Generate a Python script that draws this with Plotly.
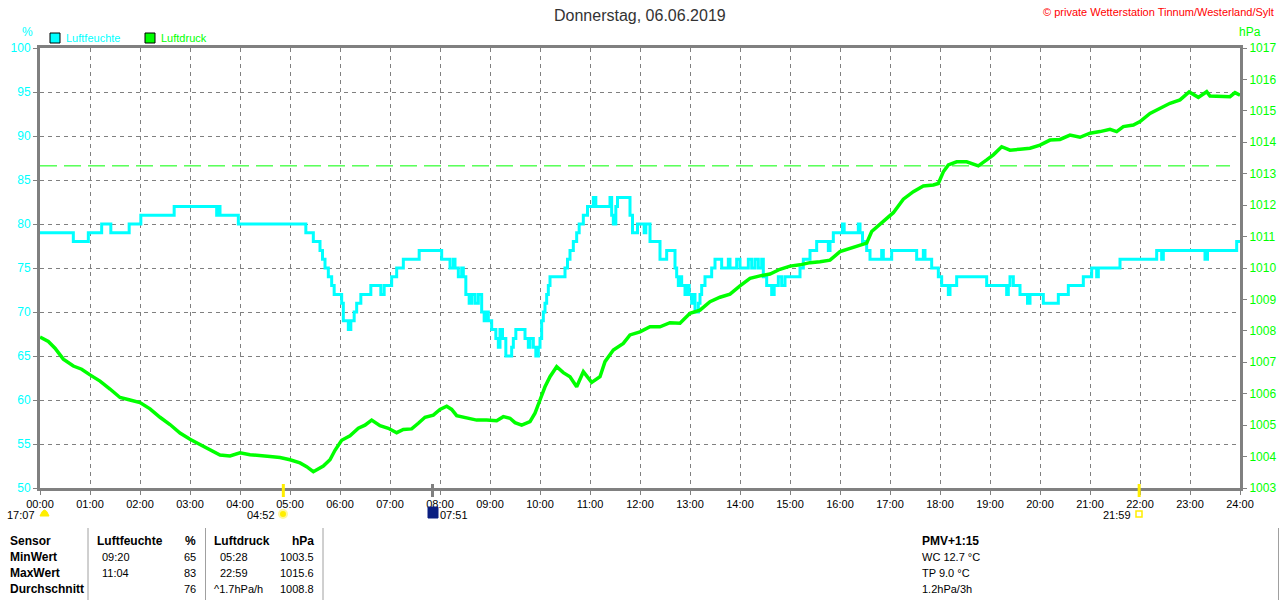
import plotly.graph_objects as go

# Humidity (%) - step series, time "HH:MM" of each change
hum_times = ["00:00", "00:40", "00:58", "01:14", "01:25", "01:47", "02:01", "02:41", "03:32", "03:34",
             "03:36", "03:58", "05:19", "05:28", "05:36", "05:39", "05:42", "05:46", "05:50", "05:53",
             "06:02", "06:04", "06:10", "06:13", "06:17", "06:20", "06:25", "06:37", "06:49", "06:53",
             "07:02", "07:08", "07:16", "07:35", "08:02", "08:12", "08:16", "08:18", "08:22", "08:26",
             "08:28", "08:31", "08:35", "08:38", "08:42", "08:46", "08:50", "08:53", "08:56", "08:58",
             "09:02", "09:07", "09:10", "09:12", "09:15", "09:19", "09:26", "09:28", "09:31", "09:42",
             "09:46", "09:48", "09:52", "09:55", "09:58", "10:00", "10:02", "10:04", "10:06", "10:08",
             "10:10", "10:12", "10:30", "10:33", "10:36", "10:40", "10:44", "10:47", "10:52", "10:57",
             "11:04", "11:07", "11:24", "11:26", "11:28", "11:31", "11:33", "11:48", "11:51", "11:57",
             "12:05", "12:07", "12:12", "12:24", "12:32", "12:42", "12:44", "12:46", "12:48", "12:50",
             "12:54", "12:57", "12:59", "13:02", "13:04", "13:06", "13:10", "13:12", "13:14", "13:18",
             "13:26", "13:30", "13:38", "13:46", "13:48", "13:56", "14:00", "14:10", "14:14", "14:18",
             "14:22", "14:26", "14:28", "14:32", "14:38", "14:41", "14:46", "14:50", "14:54", "15:12",
             "15:16", "15:24", "15:32", "15:46", "15:48", "15:52", "16:03", "16:05", "16:22", "16:24",
             "16:27", "16:32", "16:36", "16:50", "16:52", "17:02", "17:32", "17:40", "17:42", "17:50",
             "17:58", "18:02", "18:10", "18:12", "18:20", "18:56", "19:20", "19:22", "19:24", "19:28",
             "19:36", "19:45", "19:48", "20:04", "20:22", "20:34", "20:52", "21:02", "21:08", "21:10",
             "21:36", "22:20", "22:26", "22:28", "23:18", "23:21", "23:56", "24:00"]
hum_values = [79, 78, 79, 80, 79, 80, 81, 82, 81, 82,
              81, 80, 79, 78, 77, 76, 75, 74, 73, 72,
              71, 69, 68, 69, 70, 71, 72, 73, 72, 73,
              74, 75, 76, 77, 76, 75, 76, 75, 74, 75,
              74, 72, 71, 72, 71, 72, 70, 69, 70, 69,
              68, 67, 66, 68, 67, 65, 66, 67, 68, 67,
              66, 67, 66, 65, 66, 67, 69, 70, 71, 72,
              73, 74, 75, 76, 77, 78, 79, 80, 81, 82,
              83, 82, 83, 81, 80, 82, 83, 81, 79, 80,
              79, 80, 78, 76, 77, 75, 74, 73, 74, 73,
              72, 73, 72, 71, 72, 70, 71, 72, 73, 74,
              75, 76, 75, 76, 75, 76, 75, 76, 75, 76,
              75, 76, 74, 73, 72, 73, 74, 73, 74, 75,
              76, 77, 78, 77, 78, 79, 80, 79, 80, 79,
              78, 77, 76, 77, 76, 77, 76, 77, 76, 75,
              74, 73, 72, 73, 74, 73, 72, 73, 74, 73,
              72, 71, 72, 71, 72, 73, 74, 75, 74, 75,
              76, 77, 76, 77, 76, 77, 78, 78]

# Air pressure (hPa)
pres_times = ["00:00", "00:10", "00:18", "00:28", "00:40", "00:50", "01:00", "01:12", "01:24", "01:36",
              "01:48", "02:00", "02:12", "02:24", "02:36", "02:48", "03:00", "03:12", "03:24", "03:36",
              "03:48", "04:00", "04:12", "04:24", "04:36", "04:48", "05:00", "05:12", "05:20", "05:28",
              "05:40", "05:48", "05:54", "06:02", "06:12", "06:22", "06:30", "06:38", "06:48", "06:58",
              "07:08", "07:16", "07:26", "07:34", "07:42", "07:52", "08:00", "08:08", "08:14", "08:20",
              "08:32", "08:44", "08:56", "09:08", "09:16", "09:24", "09:30", "09:38", "09:48", "09:54",
              "10:00", "10:06", "10:12", "10:20", "10:28", "10:36", "10:44", "10:52", "11:02", "11:12",
              "11:18", "11:28", "11:40", "11:48", "12:00", "12:12", "12:24", "12:36", "12:48", "13:00",
              "13:12", "13:24", "13:36", "13:48", "14:00", "14:12", "14:24", "14:36", "14:48", "15:00",
              "15:12", "15:24", "15:36", "15:48", "16:00", "16:12", "16:24", "16:32", "16:38", "16:52",
              "17:04", "17:16", "17:28", "17:40", "17:52", "17:58", "18:04", "18:10", "18:20", "18:32",
              "18:46", "18:56", "19:04", "19:14", "19:24", "19:36", "19:48", "20:00", "20:12", "20:24",
              "20:36", "20:48", "21:00", "21:12", "21:24", "21:32", "21:40", "21:52", "22:00", "22:12",
              "22:24", "22:36", "22:48", "22:59", "23:10", "23:20", "23:24", "23:36", "23:48", "23:54",
              "24:00"]
pres_values = [1007.8, 1007.66, 1007.45, 1007.1, 1006.88, 1006.78, 1006.6, 1006.4, 1006.15, 1005.88,
               1005.8, 1005.72, 1005.52, 1005.25, 1005.02, 1004.75, 1004.55, 1004.38, 1004.22, 1004.05,
               1004.02, 1004.12, 1004.06, 1004.02, 1004.0, 1003.97, 1003.9, 1003.8, 1003.68, 1003.52,
               1003.7, 1003.9, 1004.2, 1004.52, 1004.66, 1004.9, 1005.0, 1005.16, 1004.98, 1004.9,
               1004.76, 1004.86, 1004.88, 1005.06, 1005.25, 1005.32, 1005.5, 1005.6, 1005.5, 1005.3,
               1005.22, 1005.16, 1005.16, 1005.14, 1005.27, 1005.22, 1005.08, 1005.0, 1005.11, 1005.38,
               1005.8, 1006.22, 1006.54, 1006.86, 1006.67, 1006.54, 1006.22, 1006.7, 1006.36, 1006.54,
               1007.02, 1007.39, 1007.6, 1007.87, 1007.97, 1008.13, 1008.13, 1008.26, 1008.24, 1008.56,
               1008.66, 1008.93, 1009.07, 1009.17, 1009.43, 1009.67, 1009.75, 1009.81, 1009.96, 1010.06,
               1010.1, 1010.17, 1010.2, 1010.25, 1010.52, 1010.63, 1010.73, 1010.79, 1011.16, 1011.47,
               1011.76, 1012.19, 1012.43, 1012.61, 1012.64, 1012.69, 1013.06, 1013.28, 1013.38, 1013.38,
               1013.25, 1013.44, 1013.6, 1013.86, 1013.75, 1013.78, 1013.81, 1013.91, 1014.07, 1014.09,
               1014.23, 1014.16, 1014.29, 1014.34, 1014.41, 1014.34, 1014.5, 1014.55, 1014.66, 1014.92,
               1015.08, 1015.24, 1015.35, 1015.6, 1015.43, 1015.61, 1015.47, 1015.45, 1015.45, 1015.58,
               1015.5]

ref_pressure = 1013.25
hour_labels = [f"{h:02d}:00" for h in range(25)]

# sunrise / moon / sunset markers under the time axis
event_times = ["04:52", "07:51", "21:59"]
event_colors = ["#FFEE00", "#808080", "#FFEE00"]

# stats table
table_head = ["Sensor", "Luftfeuchte", "%", "Luftdruck", "hPa"]
table_rows = ["MinWert", "MaxWert", "Durchschnitt"]
hum_time_col = ["09:20", "11:04", ""]
hum_val_col = ["65", "83", "76"]
pres_time_col = ["05:28", "22:59", "^1.7hPa/h"]
pres_val_col = ["1003.5", "1015.6", "1008.8"]
extra_lines = ["WC 12.7 °C", "TP 9.0 °C", "1.2hPa/3h"]


def hrs(s):
    h, m = s.split(":")
    return int(h) + int(m) / 60


def px(x):
    return (x - 40) / 1200


def py(y):
    return (488 - y) / 440


CYAN = "#00FFFF"
GREEN = "#00FF00"
FONT = "Liberation Sans, Arial, sans-serif"

fig = go.Figure()

fig.add_trace(go.Scatter(
    x=[hrs(t) for t in hum_times], y=hum_values,
    mode="lines", line=dict(color=CYAN, width=3, shape="hv"),
    name="Luftfeuchte", showlegend=False
))
fig.add_trace(go.Scatter(
    x=[hrs(t) for t in pres_times], y=pres_values, yaxis="y2",
    mode="lines", line=dict(color=GREEN, width=3.5),
    name="Luftdruck", showlegend=False
))

# 1013.25 hPa reference line
fig.add_shape(type="line", xref="x", yref="y2", x0=0, x1=23.8, y0=ref_pressure, y1=ref_pressure,
              line=dict(color=GREEN, width=1, dash="17px,7px"))

# event ticks on the time axis
for t, c in zip(event_times, event_colors):
    fig.add_shape(type="line", xref="x", yref="paper", x0=hrs(t), x1=hrs(t), y0=py(484), y1=py(497),
                  line=dict(color=c, width=3))

ann = []


def text(x, y, s, color="black", size=11, anchor="left", bold=False):
    ann.append(dict(xref="paper", yref="paper", x=px(x), y=py(y), text=f"<b>{s}</b>" if bold else s,
                    showarrow=False, xanchor=anchor, yanchor="middle",
                    font=dict(family=FONT, size=size, color=color)))


# header texts
text(640, 15, "Donnerstag, 06.06.2019", color="#333333", size=16, anchor="center")
text(1276, 12, "© private Wetterstation Tinnum/Westerland/Sylt", color="#FF0000", size=11, anchor="right")
text(27, 32, "%", color=CYAN, size=12, anchor="center")
text(1250, 32, "hPa", color=GREEN, size=12, anchor="center")

# legend
for x0, label, col in [(50, "Luftfeuchte", CYAN), (145, "Luftdruck", GREEN)]:
    fig.add_shape(type="rect", xref="paper", yref="paper", x0=px(x0), x1=px(x0 + 10), y0=py(43), y1=py(33),
                  fillcolor=col, line=dict(color="black", width=1))
    text(x0 + 14, 38, label, color=col)

# event labels
text(37, 515, "17:07", anchor="right")
fig.add_shape(type="path", xref="paper", yref="paper",
              path=f"M {px(40)},{py(516)} Q {px(44.5)},{py(504)} {px(49)},{py(516)} Z",
              fillcolor="#FFEE00", line=dict(color="#FFEE00", width=1))
text(277, 515, "04:52", anchor="right")
fig.add_shape(type="circle", xref="paper", yref="paper", x0=px(279), x1=px(287), y0=py(518), y1=py(510),
              fillcolor="#FFEE00", line=dict(color="#FFF7A0", width=2))
fig.add_shape(type="rect", xref="paper", yref="paper", x0=px(428), x1=px(438), y0=py(518), y1=py(507),
              fillcolor="#0A1E80", line=dict(color="#0A1E80", width=1))
text(438, 515, "07:51")
text(1133, 515, "21:59", anchor="right")
fig.add_shape(type="rect", xref="paper", yref="paper", x0=px(1136), x1=px(1142), y0=py(517), y1=py(511),
              line=dict(color="#FFEE00", width=1.5))

# stats table
row_y = [557, 573, 589]
text(8, 541, table_head[0], size=12, bold=True)
text(95, 541, table_head[1], size=12, bold=True)
text(198, 541, table_head[2], size=12, anchor="right", bold=True)
text(212, 541, table_head[3], size=12, bold=True)
text(316, 541, table_head[4], size=12, anchor="right", bold=True)
for i, yy in enumerate(row_y):
    text(8, yy, table_rows[i], size=12, bold=True)
    text(100, yy, hum_time_col[i])
    text(198, yy, hum_val_col[i], anchor="right")
    text(218 if i < 2 else 212, yy, pres_time_col[i])
    text(316, yy, pres_val_col[i], anchor="right")
text(920, 541, "PMV+1:15", size=12, bold=True)
for s, yy in zip(extra_lines, row_y):
    text(920, yy, s)

for xs in [88, 205.5, 323, 1278.5]:
    fig.add_shape(type="line", xref="paper", yref="paper", x0=px(xs), x1=px(xs), y0=py(528), y1=py(600),
                  line=dict(color="#A0A0A0", width=1))

fig.update_layout(
    width=1280, height=600,
    margin=dict(l=40, r=40, t=48, b=112, autoexpand=False),
    paper_bgcolor="white", plot_bgcolor="white",
    font=dict(family=FONT, size=11, color="black"),
    hovermode=False,
    annotations=ann,
    xaxis=dict(range=[0, 24], tickmode="array", tickvals=list(range(25)), ticktext=hour_labels,
               showgrid=True, gridcolor="#808080", griddash="4px,4px", gridwidth=1,
               showline=True, linecolor="#808080", linewidth=3, mirror=True, automargin=False,
               ticks="outside", ticklen=4, tickcolor="#808080", zeroline=False,
               tickfont=dict(size=11, color="black")),
    yaxis=dict(range=[50, 100], dtick=5, showgrid=True, gridcolor="#808080", griddash="4px,4px",
               showline=True, linecolor="#808080", linewidth=3, ticks="outside", ticklen=4,
               tickcolor="#808080", zeroline=False, automargin=False, tickfont=dict(size=12, color=CYAN)),
    yaxis2=dict(range=[1003, 1017], dtick=1, overlaying="y", side="right", showgrid=False,
                showline=True, linecolor="#808080", linewidth=3, ticks="outside", ticklen=4,
                tickcolor="#808080", zeroline=False, automargin=False, tickfont=dict(size=12, color=GREEN)),
)

# the page's default body margin would shift the 1280x600 figure
fig.write_html("out.html", config={"displayModeBar": False},
               post_script="document.body.style.margin='0px';")
